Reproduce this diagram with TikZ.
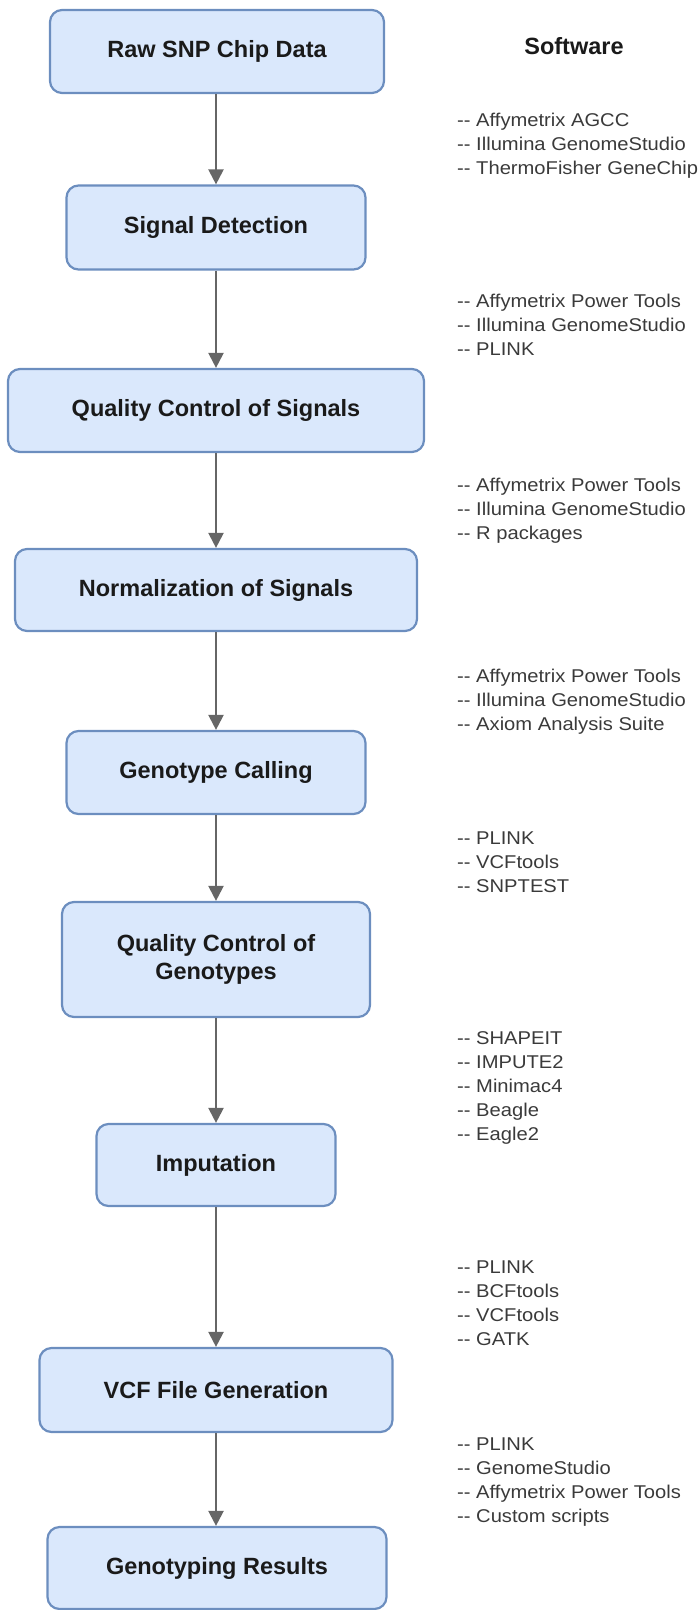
\documentclass[tikz,border=0pt]{standalone}
\usepackage{fontspec}
\setmainfont{Liberation Sans}
\newfontfamily\listfont[FakeStretch=1.09]{Liberation Sans}
\usetikzlibrary{arrows.meta}
\definecolor{boxfill}{HTML}{DAE8FC}
\definecolor{boxline}{HTML}{6C8EBF}
\definecolor{arrowgray}{HTML}{666666}
\definecolor{listgray}{HTML}{3A3A3A}
\definecolor{boxtext}{HTML}{1A1A1A}
\begin{document}
\begin{tikzpicture}[x=1pt,y=-1pt,
  stage/.style={draw=boxline, fill=boxfill, line width=2.2pt, rounded corners=12pt, inner sep=0pt, align=center, text=boxtext, font=\fontsize{23.5}{28}\selectfont\bfseries},
  flow/.style={draw=arrowgray, line width=2.2pt, -{Triangle[length=15pt,width=15pt]}},
  tools/.style={anchor=north west, align=left, inner sep=0pt, text=listgray, font=\listfont\fontsize{18.5}{24}\selectfont},
  title/.style={inner sep=0pt, text=boxtext, font=\fontsize{23.5}{28}\selectfont\bfseries}]
\useasboundingbox (0,0) rectangle (700,1610);
\node[stage, minimum width=334pt, minimum height=83pt] (n1) at (217,51.5) {Raw SNP Chip Data};
\node[stage, minimum width=299pt, minimum height=84pt] (n2) at (216,227.5) {Signal Detection};
\node[stage, minimum width=416pt, minimum height=83pt] (n3) at (216,410.5) {Quality Control of Signals};
\node[stage, minimum width=402pt, minimum height=82pt] (n4) at (216,590) {Normalization of Signals};
\node[stage, minimum width=299pt, minimum height=83pt] (n5) at (216,772.5) {Genotype Calling};
\node[stage, minimum width=308pt, minimum height=115pt] (n6) at (216,959.5) {Quality Control of\\Genotypes};
\node[stage, minimum width=239pt, minimum height=82pt] (n7) at (216,1165) {Imputation};
\node[stage, minimum width=353pt, minimum height=84pt] (n8) at (216,1390) {VCF File Generation};
\node[stage, minimum width=339pt, minimum height=82pt] (n9) at (217,1568) {Genotyping Results};

\draw[flow] (n1.south -| n2.north) -- (n2.north);
\draw[flow] (n2) -- (n3);
\draw[flow] (n3) -- (n4);
\draw[flow] (n4) -- (n5);
\draw[flow] (n5) -- (n6);
\draw[flow] (n6) -- (n7);
\draw[flow] (n7) -- (n8);
\draw[flow] (n8.south) -- (n8.south |- n9.north);

\node[title] (sw) at (574,46) {Software};
\node[tools] (t1) at (457,113) {-{}- Affymetrix AGCC\\-{}- Illumina GenomeStudio\\-{}- ThermoFisher GeneChip};
\node[tools] (t2) at (457,294) {-{}- Affymetrix Power Tools\\-{}- Illumina GenomeStudio\\-{}- PLINK};
\node[tools] (t3) at (457,478) {-{}- Affymetrix Power Tools\\-{}- Illumina GenomeStudio\\-{}- R packages};
\node[tools] (t4) at (457,669) {-{}- Affymetrix Power Tools\\-{}- Illumina GenomeStudio\\-{}- Axiom Analysis Suite};
\node[tools] (t5) at (457,832) {-{}- PLINK\\-{}- VCFtools\\-{}- SNPTEST};
\node[tools] (t6) at (457,1031) {-{}- SHAPEIT\\-{}- IMPUTE2\\-{}- Minimac4\\-{}- Beagle\\-{}- Eagle2};
\node[tools] (t7) at (457,1261) {-{}- PLINK\\-{}- BCFtools\\-{}- VCFtools\\-{}- GATK};
\node[tools] (t8) at (457,1438) {-{}- PLINK\\-{}- GenomeStudio\\-{}- Affymetrix Power Tools\\-{}- Custom scripts};
\end{tikzpicture}
\end{document}
